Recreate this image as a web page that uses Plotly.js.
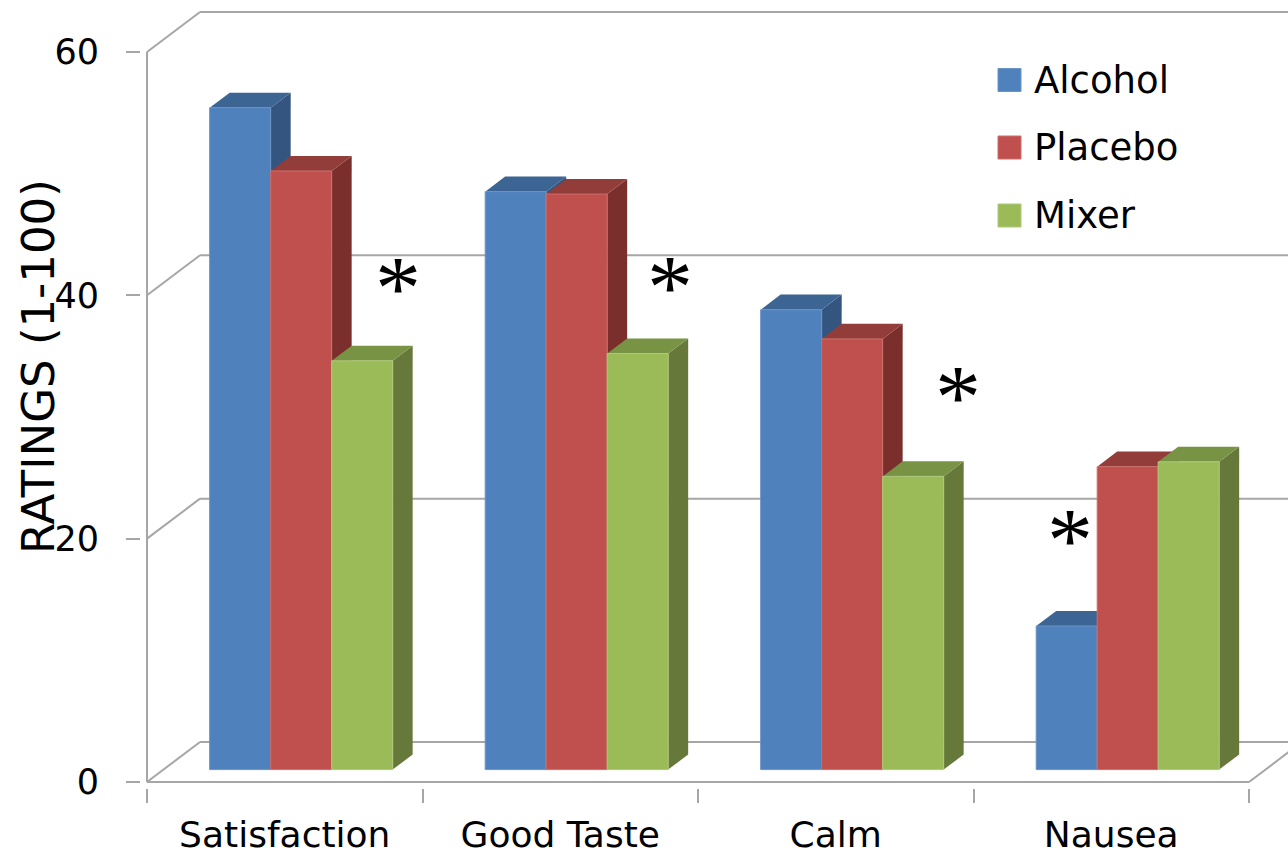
<!DOCTYPE html>
<html>
<head>
<meta charset="utf-8">
<script src="https://cdn.plot.ly/plotly-3.0.1.min.js"></script>
<style>
  html, body { margin: 0; padding: 0; background: #ffffff; }
  #chart { width: 1288px; height: 855px; }
</style>
</head>
<body>
<div id="chart"></div>
<script>
// Mean ratings (1-100) by condition
const categories = ['Satisfaction', 'Good Taste', 'Calm', 'Nausea'];
const seriesNames = ['Alcohol', 'Placebo', 'Mixer'];
const alcohol = [54.4, 47.5, 37.8, 11.8];
const placebo = [49.2, 47.3, 35.4, 24.9];
const mixer   = [33.6, 34.2, 24.1, 25.3];
const yTicks  = [0, 20, 40, 60];
const yTitle  = 'RATINGS (1-100)';

// Significance asterisks (category position, rating height)
const starX = [0.41, 1.40, 2.445, 2.85];
const starY = [41.6, 41.7, 32.6, 20.9];

// Face colours for the pseudo-3D columns
const FRONT = ['#4F81BD', '#C0504D', '#9BBB59'];
const EDGE  = ['#6A93C8', '#CC6F6C', '#AEC97A'];
const TOP   = ['#3D6593', '#933D3A', '#789344'];
const SIDE  = ['#34557F', '#7A2F2D', '#66793A'];
const GRID  = '#a6a6a6';
const FONT  = '"DejaVu Sans", sans-serif';

// Page geometry
const W = 1288, H = 855;
const M = { l: 141, r: 0, t: 5, b: 67 };
const plotW = W - M.l - M.r, plotH = H - M.t - M.b;
const PX_PER_CAT = 275.5, PX_PER_UNIT = 12.167;
const AXIS_X_PX = 147, AXIS_Y_PX = 782;     // front corner of the floor
const xRange = [-0.5 - (AXIS_X_PX - M.l) / PX_PER_CAT, 0];
xRange[1] = xRange[0] + plotW / PX_PER_CAT;
const yRange = [-((H - M.b) - AXIS_Y_PX) / PX_PER_UNIT, 0];
yRange[1] = yRange[0] + plotH / PX_PER_UNIT;

// Oblique depth of the box and the columns (in axis units)
const DX = 53 / PX_PER_CAT, DY = 40 / PX_PER_UNIT;
const F0 = 0.31, F1 = 0.687;
const BW = 61 / PX_PER_CAT;
const BASE = F0 * DY;
const ddx = (F1 - F0) * DX, ddy = (F1 - F0) * DY;

const values = [alcohol, placebo, mixer];
const barX = (i, j) => i + F0 * DX + (j - 1) * BW;

const traces = values.map((vals, j) => ({
  type: 'bar',
  name: seriesNames[j],
  x: categories.map((c, i) => barX(i, j)),
  y: vals,
  base: BASE,
  width: BW,
  customdata: categories,
  hovertemplate: '%{customdata}<br>' + seriesNames[j] + ': %{y}<extra></extra>',
  marker: { color: FRONT[j], line: { color: EDGE[j], width: 1 } },
  showlegend: false
}));
// carrier for the boundary tick axis
traces.push({ type: 'scatter', x: [], y: [], xaxis: 'x2', showlegend: false, hoverinfo: 'skip' });

const shapes = [];
const gridLine = (x0, y0, x1, y1) => shapes.push({
  type: 'line', xref: 'x', yref: 'y', x0, y0, x1, y1, layer: 'below',
  line: { color: GRID, width: 2 }
});

// back wall gridlines and left wall diagonals
yTicks.forEach(v => {
  gridLine(-0.5, v, -0.5 + DX, v + DY);
  gridLine(-0.5 + DX, v + DY, xRange[1] + 0.1, v + DY);
});
// floor front and right edges, front value axis
gridLine(-0.5, 0, categories.length - 0.5, 0);
gridLine(categories.length - 0.5, 0, categories.length - 0.5 + DX, DY);
gridLine(-0.5, 0, -0.5, yTicks[yTicks.length - 1]);

// side and top faces of each column
categories.forEach((c, i) => {
  values.forEach((vals, j) => {
    const xl = barX(i, j) - BW / 2, xr = xl + BW;
    const top = BASE + vals[i];
    shapes.push({
      type: 'path', xref: 'x', yref: 'y', layer: 'below',
      fillcolor: SIDE[j], line: { width: 0 },
      path: `M${xr},${BASE} L${xr + ddx},${BASE + ddy} L${xr + ddx},${top + ddy} L${xr},${top} Z`
    });
    shapes.push({
      type: 'path', xref: 'x', yref: 'y', layer: 'below',
      fillcolor: TOP[j], line: { width: 0 },
      path: `M${xl},${top} L${xl + ddx},${top + ddy} L${xr + ddx},${top + ddy} L${xr},${top} Z`
    });
  });
});

// legend block
const px2paperX = px => (px - M.l) / plotW;
const px2paperY = py => ((H - M.b) - py) / plotH;
const legendRows = [80, 147.5, 215.5];
const annotations = [];
seriesNames.forEach((name, j) => {
  shapes.push({
    type: 'rect', xref: 'paper', yref: 'paper',
    x0: px2paperX(998), x1: px2paperX(1021),
    y0: px2paperY(legendRows[j] + 11.5), y1: px2paperY(legendRows[j] - 11.5),
    fillcolor: FRONT[j], line: { color: EDGE[j], width: 1 }
  });
  annotations.push({
    xref: 'paper', yref: 'paper', x: px2paperX(1032), y: px2paperY(legendRows[j]),
    xanchor: 'left', yanchor: 'middle', showarrow: false, text: name,
    font: { family: FONT, size: 37, color: '#000' }
  });
});

// value axis title, rotated along the left edge
annotations.push({
  xref: 'paper', yref: 'paper', x: px2paperX(38), y: px2paperY(367),
  xanchor: 'center', yanchor: 'middle', textangle: -90, showarrow: false,
  text: yTitle, font: { family: FONT, size: 45, color: '#000' }
});

// asterisks
starX.forEach((x, k) => annotations.push({
  xref: 'x', yref: 'y', x: x, y: starY[k], text: '*', showarrow: false,
  xanchor: 'center', yanchor: 'middle', yshift: -12,
  font: { family: '"Liberation Serif", serif', size: 92, color: '#000' }
}));

const layout = {
  width: W, height: H,
  margin: M,
  paper_bgcolor: '#ffffff', plot_bgcolor: '#ffffff',
  showlegend: false,
  barmode: 'overlay',
  font: { family: FONT, color: '#000' },
  xaxis: {
    range: xRange, tickmode: 'array', tickvals: categories.map((c, i) => i), ticktext: categories,
    ticks: '', showgrid: false, zeroline: false, showline: false,
    tickfont: { family: FONT, size: 36, color: '#000' }, ticklabelstandoff: 22
  },
  xaxis2: {
    overlaying: 'x', anchor: 'y', side: 'bottom', range: xRange,
    tickmode: 'array', tickvals: [-0.5, 0.5, 1.5, 2.5, 3.5],
    ticks: 'outside', ticklen: 14, tickwidth: 2, tickcolor: GRID,
    showticklabels: false, showgrid: false, zeroline: false, showline: false
  },
  yaxis: {
    range: yRange, tickmode: 'array', tickvals: yTicks,
    ticks: 'outside', ticklen: 14, tickwidth: 2, tickcolor: GRID,
    showgrid: false, zeroline: false, showline: false,
    tickfont: { family: FONT, size: 35, color: '#000' }, ticklabelstandoff: 20
  },
  shapes: shapes,
  annotations: annotations
};

Plotly.newPlot('chart', traces, layout, { displayModeBar: false });
</script>
</body>
</html>
